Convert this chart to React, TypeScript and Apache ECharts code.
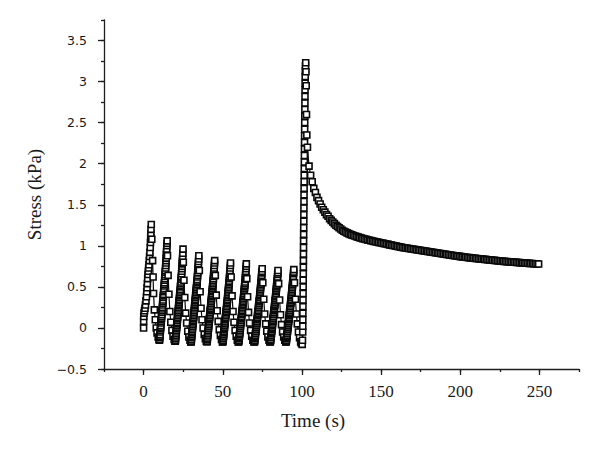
import React, { useEffect, useRef } from "react";
import * as echarts from "echarts";

// Time (s) / Stress (kPa) readings — first loading cycle, [t, stress]
const cycle0: number[][] = [
  [0.0, 0.0], [0.05, 0.08], [0.1, 0.14], [0.3, 0.18], [0.6, 0.21], [0.9, 0.24], [1.2, 0.28], [1.5, 0.33],
  [1.8, 0.38], [2.0, 0.44], [2.2, 0.49], [2.4, 0.54], [2.6, 0.6], [2.8, 0.65], [3.0, 0.69], [3.2, 0.73],
  [3.4, 0.77], [3.6, 0.82], [3.8, 0.87], [4.0, 0.92], [4.2, 0.98], [4.35, 1.04], [4.5, 1.1], [4.6, 1.15],
  [4.7, 1.2], [4.85, 1.26],
  [5.2, 1.08], [5.7, 0.82], [6.0, 0.62], [6.3, 0.42], [6.8, 0.22], [7.4, 0.1], [8.0, 0.0], [8.5, -0.06],
  [9.2, -0.11], [9.8, -0.14],
];

// Loading ramps of cycles 2–10, sampled every 0.1 s from the cycle start (10, 20, … 90 s)
const riseStep = 0.1;
const cycleStarts = [10, 20, 30, 40, 50, 60, 70, 80, 90];
const rise1 = [
  -0.15, -0.14, -0.12, -0.1, -0.08, -0.05, -0.03, -0.01, 0.01, 0.03,
  0.06, 0.08, 0.1, 0.12, 0.14, 0.16, 0.19, 0.21, 0.23, 0.25,
  0.28, 0.3, 0.32, 0.34, 0.37, 0.39, 0.41, 0.44, 0.46, 0.48,
  0.51, 0.53, 0.55, 0.58, 0.6, 0.63, 0.65, 0.68, 0.7, 0.73,
  0.76, 0.79, 0.82, 0.85, 0.89, 0.92, 0.96, 1.0, 1.03, 1.06,
];
const rise2 = [
  -0.16, -0.15, -0.13, -0.11, -0.09, -0.07, -0.05, -0.03, -0.01, 0.01,
  0.03, 0.05, 0.07, 0.09, 0.11, 0.13, 0.15, 0.17, 0.19, 0.21,
  0.23, 0.25, 0.27, 0.29, 0.31, 0.33, 0.35, 0.37, 0.39, 0.41,
  0.43, 0.45, 0.47, 0.5, 0.52, 0.54, 0.56, 0.59, 0.61, 0.63,
  0.66, 0.69, 0.72, 0.75, 0.78, 0.81, 0.84, 0.87, 0.91, 0.96,
];
const rise3 = [
  -0.17, -0.16, -0.14, -0.12, -0.1, -0.08, -0.06, -0.04, -0.02, 0.0,
  0.02, 0.04, 0.06, 0.08, 0.09, 0.11, 0.13, 0.15, 0.17, 0.19,
  0.21, 0.23, 0.25, 0.27, 0.29, 0.31, 0.33, 0.35, 0.37, 0.39,
  0.41, 0.43, 0.45, 0.47, 0.49, 0.51, 0.53, 0.55, 0.57, 0.59,
  0.62, 0.64, 0.67, 0.7, 0.72, 0.75, 0.78, 0.81, 0.84, 0.88,
];
const rise4 = [
  -0.17, -0.16, -0.14, -0.13, -0.11, -0.09, -0.07, -0.05, -0.03, -0.01,
  0.0, 0.02, 0.04, 0.06, 0.08, 0.1, 0.11, 0.13, 0.15, 0.17,
  0.19, 0.21, 0.22, 0.24, 0.26, 0.28, 0.3, 0.32, 0.34, 0.36,
  0.38, 0.4, 0.42, 0.44, 0.46, 0.48, 0.5, 0.52, 0.54, 0.56,
  0.58, 0.6, 0.63, 0.65, 0.68, 0.7, 0.73, 0.76, 0.79, 0.82,
];
const rise5 = [
  -0.17, -0.16, -0.15, -0.13, -0.11, -0.1, -0.08, -0.06, -0.04, -0.02,
  -0.01, 0.01, 0.03, 0.05, 0.06, 0.08, 0.1, 0.12, 0.13, 0.15,
  0.17, 0.19, 0.2, 0.22, 0.24, 0.26, 0.28, 0.3, 0.31, 0.33,
  0.35, 0.37, 0.39, 0.41, 0.43, 0.45, 0.47, 0.49, 0.51, 0.53,
  0.55, 0.57, 0.6, 0.62, 0.65, 0.67, 0.7, 0.73, 0.76, 0.79,
];
const rise6 = [
  -0.17, -0.16, -0.15, -0.13, -0.12, -0.1, -0.08, -0.07, -0.05, -0.03,
  -0.01, 0.0, 0.02, 0.04, 0.06, 0.07, 0.09, 0.11, 0.13, 0.14,
  0.16, 0.18, 0.2, 0.21, 0.23, 0.25, 0.27, 0.29, 0.31, 0.32,
  0.34, 0.36, 0.38, 0.4, 0.42, 0.44, 0.46, 0.48, 0.5, 0.52,
  0.54, 0.56, 0.59, 0.61, 0.64, 0.66, 0.69, 0.72, 0.75, 0.78,
];
const rise7 = [
  -0.17, -0.16, -0.15, -0.13, -0.12, -0.1, -0.09, -0.07, -0.05, -0.04,
  -0.02, 0.0, 0.01, 0.03, 0.05, 0.06, 0.08, 0.1, 0.11, 0.13,
  0.15, 0.16, 0.18, 0.2, 0.21, 0.23, 0.25, 0.27, 0.28, 0.3,
  0.32, 0.33, 0.35, 0.37, 0.39, 0.41, 0.43, 0.45, 0.47, 0.49,
  0.51, 0.53, 0.55, 0.57, 0.6, 0.62, 0.64, 0.67, 0.69, 0.72,
];
const rise8 = [
  -0.17, -0.16, -0.15, -0.14, -0.12, -0.11, -0.09, -0.07, -0.06, -0.04,
  -0.02, -0.01, 0.01, 0.03, 0.04, 0.06, 0.08, 0.09, 0.11, 0.12,
  0.14, 0.16, 0.17, 0.19, 0.21, 0.22, 0.24, 0.26, 0.27, 0.29,
  0.31, 0.33, 0.34, 0.36, 0.38, 0.4, 0.42, 0.44, 0.46, 0.48,
  0.5, 0.52, 0.54, 0.56, 0.58, 0.6, 0.62, 0.65, 0.67, 0.7,
];
const rise9 = [
  -0.17, -0.16, -0.15, -0.13, -0.12, -0.1, -0.09, -0.07, -0.05, -0.04,
  -0.02, 0.0, 0.01, 0.03, 0.05, 0.06, 0.08, 0.1, 0.11, 0.13,
  0.15, 0.16, 0.18, 0.19, 0.21, 0.23, 0.24, 0.26, 0.28, 0.3,
  0.31, 0.33, 0.35, 0.37, 0.39, 0.41, 0.43, 0.45, 0.47, 0.49,
  0.51, 0.53, 0.55, 0.57, 0.59, 0.61, 0.63, 0.66, 0.68, 0.71,
];

// Unloading branches of cycles 2–10, [t, stress]
const fall1: number[][] = [[15.1, 0.88], [15.5, 0.64], [16.0, 0.41], [16.6, 0.2], [17.2, 0.07], [17.9, -0.03], [18.6, -0.1], [19.3, -0.14], [19.8, -0.16]];
const fall2: number[][] = [[25.1, 0.8], [25.5, 0.58], [26.0, 0.37], [26.6, 0.18], [27.2, 0.06], [27.9, -0.04], [28.6, -0.11], [29.3, -0.15], [29.8, -0.17]];
const fall3: number[][] = [[35.2, 0.7], [35.7, 0.44], [36.3, 0.24], [36.9, 0.1], [37.6, 0.0], [38.3, -0.08], [39.0, -0.13], [39.6, -0.16]];
const fall4: number[][] = [[45.3, 0.64], [45.9, 0.4], [46.5, 0.21], [47.1, 0.08], [47.8, -0.02], [48.5, -0.09], [49.2, -0.14], [49.8, -0.17]];
const fall5: number[][] = [[55.3, 0.62], [55.9, 0.39], [56.5, 0.2], [57.1, 0.07], [57.8, -0.03], [58.5, -0.1], [59.2, -0.15], [59.8, -0.17]];
const fall6: number[][] = [[65.2, 0.6], [65.7, 0.38], [66.3, 0.19], [66.9, 0.06], [67.6, -0.03], [68.3, -0.1], [69.0, -0.15], [69.7, -0.17]];
const fall7: number[][] = [[75.3, 0.55], [75.9, 0.35], [76.5, 0.17], [77.1, 0.05], [77.8, -0.04], [78.5, -0.11], [79.2, -0.15], [79.8, -0.17]];
const fall8: number[][] = [[85.3, 0.54], [85.9, 0.34], [86.5, 0.16], [87.1, 0.04], [87.8, -0.05], [88.5, -0.11], [89.2, -0.15], [89.8, -0.17]];
const fall9: number[][] = [[95.3, 0.55], [95.9, 0.35], [96.5, 0.17], [97.1, 0.05], [97.8, -0.05], [98.5, -0.12], [99.2, -0.17], [99.7, -0.19]];

// Step loading spike, [t, stress]
const spike: number[][] = [
  [100.2, -0.2], [100.35, -0.15], [100.5, -0.05], [100.55, 0.02], [100.58, 0.1], [100.62, 0.18],
  [100.66, 0.26], [100.7, 0.34], [100.74, 0.42], [100.78, 0.5], [100.82, 0.58], [100.86, 0.66],
  [100.9, 0.74], [100.94, 0.82], [100.98, 0.9], [101.02, 0.98], [101.06, 1.06], [101.1, 1.14],
  [101.14, 1.22], [101.18, 1.3], [101.22, 1.38], [101.26, 1.46], [101.3, 1.54], [101.34, 1.62],
  [101.38, 1.7], [101.42, 1.78], [101.46, 1.86], [101.5, 1.94], [101.54, 2.02], [101.58, 2.1],
  [101.62, 2.18], [101.66, 2.26], [101.7, 2.34], [101.74, 2.42], [101.78, 2.5], [101.82, 2.58],
  [101.86, 2.66], [101.9, 2.74], [101.94, 2.82], [101.98, 2.9], [102.02, 2.98], [102.08, 3.06],
  [102.15, 3.13], [102.25, 3.19], [102.4, 3.23], [102.55, 3.12], [102.7, 2.95], [102.9, 2.6],
  [103.1, 2.35],
];

// Stress relaxation, sampled every second from 103.5 s
const relaxStart = 103.5;
const relaxStep = 1;
const relaxStress: number[] = [
  2.2, 1.97, 1.86, 1.78, 1.7, 1.65, 1.59, 1.55, 1.51, 1.47,
  1.44, 1.41, 1.38, 1.36, 1.33, 1.31, 1.29, 1.27, 1.25, 1.235,
  1.22, 1.205, 1.19, 1.178, 1.168, 1.158, 1.148, 1.14, 1.133, 1.126,
  1.119, 1.112, 1.106, 1.1, 1.094, 1.088, 1.083, 1.078, 1.073, 1.068,
  1.063, 1.058, 1.054, 1.05, 1.046, 1.042, 1.038, 1.034, 1.03, 1.026,
  1.022, 1.018, 1.012, 1.008, 1.004, 1.0, 0.996, 0.992, 0.988, 0.984,
  0.98, 0.977, 0.974, 0.97, 0.967, 0.964, 0.961, 0.958, 0.955, 0.952,
  0.949, 0.946, 0.943, 0.94, 0.937, 0.934, 0.931, 0.928, 0.925, 0.922,
  0.919, 0.916, 0.913, 0.91, 0.907, 0.904, 0.901, 0.898, 0.895, 0.892,
  0.889, 0.886, 0.883, 0.88, 0.877, 0.874, 0.871, 0.868, 0.866, 0.863,
  0.861, 0.858, 0.856, 0.853, 0.851, 0.849, 0.847, 0.845, 0.843, 0.841,
  0.839, 0.837, 0.835, 0.833, 0.831, 0.829, 0.827, 0.825, 0.823, 0.821,
  0.819, 0.817, 0.815, 0.813, 0.811, 0.81, 0.808, 0.806, 0.805, 0.803,
  0.801, 0.8, 0.798, 0.797, 0.795, 0.794, 0.792, 0.791, 0.789, 0.788,
  0.786, 0.785, 0.784, 0.782, 0.781, 0.78, 0.779,
];

const xTickLabels = [0, 50, 100, 150, 200, 250];
const yTickLabels = [-0.5, 0, 0.5, 1, 1.5, 2, 2.5, 3, 3.5];

const AXIS_COLOR = "#1e1e1e";

export default function App() {
  const ref = useRef<HTMLDivElement>(null);

  useEffect(() => {
    if (!ref.current) return;
    const chart = echarts.init(ref.current, null, { renderer: "svg" });

    const rises = [rise1, rise2, rise3, rise4, rise5, rise6, rise7, rise8, rise9];
    const falls = [fall1, fall2, fall3, fall4, fall5, fall6, fall7, fall8, fall9];
    const data: number[][] = [...cycle0];
    rises.forEach((r, k) => {
      r.forEach((v, i) => data.push([cycleStarts[k] + i * riseStep, v]));
      falls[k].forEach((p) => data.push(p));
    });
    spike.forEach((p) => data.push(p));
    relaxStress.forEach((v, i) => data.push([relaxStart + i * relaxStep, v]));

    const W = 600, H = 453;
    const g0 = { left: 104, right: 21, top: 20, bottom: 84 };
    const xMin = -25, xMax = 275, yMin = -0.5, yMax = 3.75;
    const pxX = (W - g0.left - g0.right) / (xMax - xMin);
    const pxY = (H - g0.top - g0.bottom) / (yMax - yMin);
    const xL0 = xTickLabels[0], xL1 = xTickLabels[xTickLabels.length - 1];
    const yL0 = yTickLabels[0], yL1 = yTickLabels[yTickLabels.length - 1];
    const g1 = {
      left: g0.left + (xL0 - xMin) * pxX,
      right: g0.right + (xMax - xL1) * pxX,
      top: g0.top + (yMax - yL1) * pxY,
      bottom: g0.bottom,
    };

    const lineStyle = { color: AXIS_COLOR, width: 1.3 };

    chart.setOption({
      animation: false,
      backgroundColor: "#ffffff",
      grid: [g0, g1],
      xAxis: [
        {
          type: "value", gridIndex: 0, min: xMin, max: xMax, interval: 25,
          axisLine: { show: true, onZero: false, lineStyle },
          axisTick: { show: true, length: 3, lineStyle },
          axisLabel: { show: false },
          splitLine: { show: false },
        },
        {
          type: "value", gridIndex: 1, min: xL0, max: xL1, interval: 50,
          axisLine: { show: false, onZero: false },
          axisTick: { show: true, length: 6, lineStyle },
          axisLabel: {
            show: true, margin: 14, color: "#1a1a1a",
            fontFamily: "Liberation Serif", fontSize: 17,
          },
          splitLine: { show: false },
          name: "Time (s)", nameLocation: "middle", nameGap: 42,
          nameTextStyle: {
            fontFamily: "Liberation Serif", fontSize: 19, color: "#1a1a1a",
            padding: [0, 57, 0, 0],
          },
        },
      ],
      yAxis: [
        {
          type: "value", gridIndex: 0, min: yMin, max: yMax, interval: 0.25,
          axisLine: { show: true, onZero: false, lineStyle },
          axisTick: { show: true, length: 3, lineStyle },
          axisLabel: { show: false },
          splitLine: { show: false },
          name: "Stress (kPa)", nameLocation: "middle", nameGap: 60,
          nameTextStyle: { fontFamily: "Liberation Serif", fontSize: 19, color: "#1a1a1a" },
        },
        {
          type: "value", gridIndex: 1, min: yL0, max: yL1, interval: 0.5,
          offset: g1.left - g0.left,
          axisLine: { show: false, onZero: false },
          axisTick: { show: true, length: 6, lineStyle },
          axisLabel: {
            show: true, margin: 17, color: "#1a1a1a",
            fontFamily: "DejaVu Sans", fontSize: 12.5,
            formatter: (v: number) => (v < 0 ? "\u22120.5" : String(v)),
          },
          splitLine: { show: false },
        },
      ],
      series: [
        {
          type: "line", xAxisIndex: 0, yAxisIndex: 0, data,
          symbol: "rect", symbolSize: 6, showAllSymbol: true,
          itemStyle: { color: "#ffffff", borderColor: "#0a0a0a", borderWidth: 1.6 },
          lineStyle: { color: "#0a0a0a", width: 1.2 },
        },
      ],
    });

    return () => chart.dispose();
  }, []);

  return (
    <div
      ref={ref}
      style={{ position: "fixed", left: 0, top: 0, width: 600, height: 453, background: "#fff" }}
    />
  );
}
